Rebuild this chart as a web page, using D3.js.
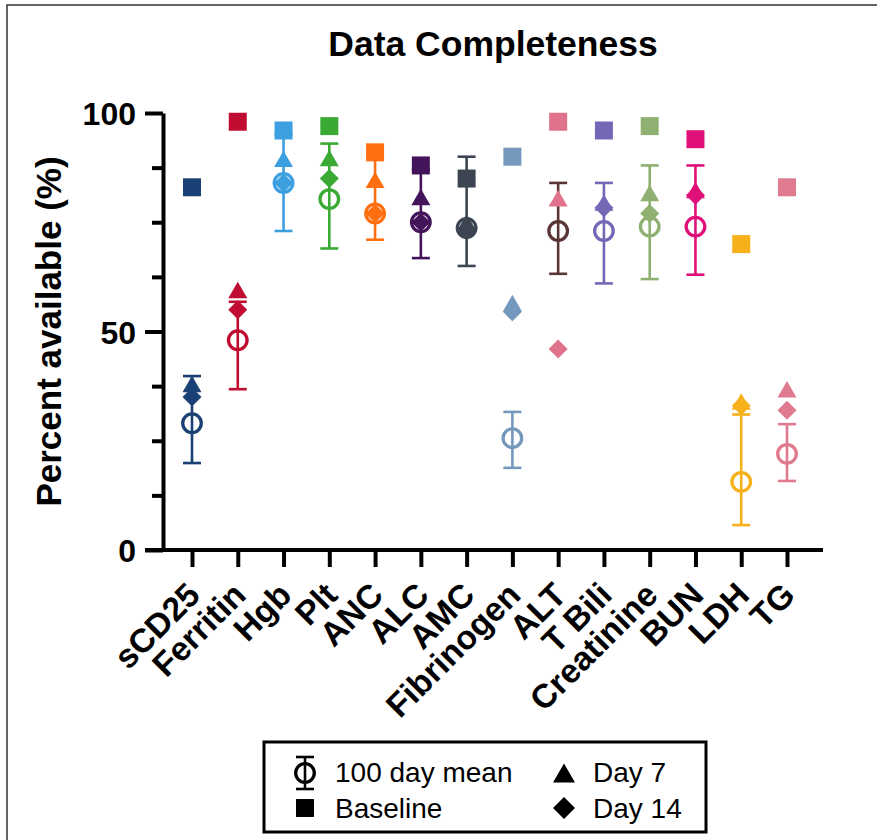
<!DOCTYPE html>
<html lang="en">
<head>
<meta charset="UTF-8">
<title>Data Completeness</title>
<script src="https://d3js.org/d3.v7.min.js"></script>
<style>
	body { margin: 0; background: #fff; }
	svg text { font-family: "Liberation Sans", Arial, sans-serif; fill: #000; }
	.bold { font-weight: bold; }
</style>
</head>
<body>
<svg id="chart" width="877" height="840"></svg>
<script>
// Values
const categories = ["sCD25", "Ferritin", "Hgb", "Plt", "ANC", "ALC", "AMC", "Fibrinogen", "ALT", "T Bili", "Creatinine", "BUN", "LDH", "TG"];
const baseline = [83, 98, 96, 97, 91, 88, 85, 90, 98, 96, 97, 94, 70, 83];
const day7 = [38, 59.5, 89.5, 89.7, 84.7, 80.8, 75, 56.5, 80.5, 79.5, 81.7, 82.4, 34, 36.8];
const day14 = [35, 55, 84, 85, 77, 75, 73, 54.5, 46, 78.3, 77, 81.2, 33, 32];
const mean100 = [29, 48, 84, 80.3, 77, 75, 73.7, 25.6, 73, 73, 74, 74, 15.6, 22];
const errLow = [19.9, 36.8, 73, 69, 71, 66.8, 65, 18.8, 63.2, 61, 62, 63, 5.7, 15.8];
const errHigh = [39.8, 56.8, 95, 93, 89.5, 87, 90, 31.6, 84, 84, 88, 88, 31, 28.8];
const colors = ["#1a4175", "#c00c30", "#3b9fe0", "#3aaa35", "#ff6f0f", "#43145a", "#3d4552", "#7598bd", "#e0738b", "#7567b5", "#8fb070", "#e0107a", "#f5b01a", "#e07a8e"];
const meanColors = ["#1a4175", "#c00c30", "#3b9fe0", "#3aaa35", "#ff6f0f", "#43145a", "#3d4552", "#7598bd", "#5a3535", "#7567b5", "#8fb070", "#e0107a", "#f5b01a", "#e07a8e"];
const majorTicks = [0, 50, 100];
const minorTicks = [12.5, 25, 37.5, 62.5, 75, 87.5];

const svg = d3.select("#chart");

const x = d3.scalePoint().domain(categories).range([192, 787]);
const y = d3.scaleLinear().domain([0, 100]).range([550, 113]);

// symbol paths
const squarePath = s => `M${-s/2},${-s/2}h${s}v${s}h${-s}Z`;
const trianglePath = s => { const h = s * Math.sqrt(3) / 2; return `M0,${-h/2}L${s/2},${h/2}L${-s/2},${h/2}Z`; };
const diamondPath = w => `M0,${-w/2}L${w/2},0L0,${w/2}L${-w/2},0Z`;

// outer frame
svg.append("rect").attr("x", 7).attr("y", 5).attr("width", 900).attr("height", 900)
	.attr("fill", "none").attr("stroke", "#333").attr("stroke-width", 1.5);

// title
svg.append("text").attr("class", "bold").attr("x", 493).attr("y", 56)
	.attr("text-anchor", "middle").attr("font-size", 35.5).text("Data Completeness");

// y axis
const yMajor = svg.append("g").attr("transform", "translate(163,0)")
	.call(d3.axisLeft(y).tickValues(majorTicks).tickSize(18).tickSizeOuter(0).tickPadding(9));
yMajor.select(".domain").attr("stroke-width", 4).attr("stroke", "#000");
yMajor.selectAll(".tick line").attr("stroke-width", 4).attr("stroke", "#000");
yMajor.selectAll(".tick text").attr("class", "bold").attr("font-size", 32).attr("dy", "0.36em")
	.attr("font-family", null);

const yMinor = svg.append("g").attr("transform", "translate(163,0)")
	.call(d3.axisLeft(y).tickValues(minorTicks).tickSize(11).tickFormat(""));
yMinor.select(".domain").remove();
yMinor.selectAll(".tick line").attr("stroke-width", 4).attr("stroke", "#000");

svg.append("text").attr("class", "bold").attr("font-size", 35)
	.attr("transform", `translate(61,${(y(0) + y(100)) / 2}) rotate(-90)`)
	.attr("text-anchor", "middle").text("Percent available (%)");

// x axis
const xAxis = svg.append("g").attr("transform", `translate(0,${y(0)})`)
	.call(d3.axisBottom(x).tickSize(17).tickFormat(""));
xAxis.select(".domain").remove();
xAxis.selectAll(".tick line").attr("stroke-width", 4).attr("stroke", "#000");
svg.append("line").attr("x1", 145).attr("x2", 823).attr("y1", y(0)).attr("y2", y(0))
	.attr("stroke", "#000").attr("stroke-width", 4);

svg.append("g").selectAll("text").data(categories).enter().append("text")
	.attr("class", "bold").attr("font-size", 33.5).attr("text-anchor", "end")
	.attr("transform", d => `translate(${x(d) + 10},597) rotate(-45)`)
	.text(d => d);

// error bars
const idx = d3.range(categories.length);
const err = svg.append("g").attr("fill", "none").attr("stroke-width", 2.6);
idx.forEach(i => {
	const cx = x(categories[i]);
	const g = err.append("g").attr("stroke", meanColors[i]);
	g.append("line").attr("x1", cx).attr("x2", cx).attr("y1", y(errLow[i])).attr("y2", y(errHigh[i]));
	g.append("line").attr("x1", cx - 9).attr("x2", cx + 9).attr("y1", y(errLow[i])).attr("y2", y(errLow[i]));
	g.append("line").attr("x1", cx - 9).attr("x2", cx + 9).attr("y1", y(errHigh[i])).attr("y2", y(errHigh[i]));
});

// 100 day mean circles
svg.append("g").selectAll("circle").data(idx).enter().append("circle")
	.attr("cx", i => x(categories[i])).attr("cy", i => y(mean100[i])).attr("r", 9.3)
	.attr("fill", "none").attr("stroke", i => meanColors[i]).attr("stroke-width", 3.3);

// baseline squares
svg.append("g").selectAll("path").data(idx).enter().append("path")
	.attr("d", squarePath(18))
	.attr("transform", i => `translate(${x(categories[i])},${y(baseline[i])})`)
	.attr("fill", i => colors[i]);

// day 7 triangles
svg.append("g").selectAll("path").data(idx).enter().append("path")
	.attr("d", trianglePath(19))
	.attr("transform", i => `translate(${x(categories[i])},${y(day7[i])})`)
	.attr("fill", i => colors[i]);

// day 14 diamonds
svg.append("g").selectAll("path").data(idx).enter().append("path")
	.attr("d", diamondPath(19))
	.attr("transform", i => `translate(${x(categories[i])},${y(day14[i])})`)
	.attr("fill", i => colors[i]);

// legend
const legend = svg.append("g");
legend.append("rect").attr("x", 264).attr("y", 742).attr("width", 442).attr("height", 90)
	.attr("fill", "#fff").attr("stroke", "#000").attr("stroke-width", 3);
const lg = legend.append("g").attr("stroke", "#000").attr("stroke-width", 2.6).attr("fill", "none");
lg.append("line").attr("x1", 305).attr("x2", 305).attr("y1", 757).attr("y2", 789);
lg.append("line").attr("x1", 296).attr("x2", 314).attr("y1", 757).attr("y2", 757);
lg.append("line").attr("x1", 296).attr("x2", 314).attr("y1", 789).attr("y2", 789);
lg.append("circle").attr("cx", 305).attr("cy", 773).attr("r", 9.3).attr("stroke-width", 3.3);
legend.append("path").attr("d", squarePath(18)).attr("transform", "translate(305,808)").attr("fill", "#000");
legend.append("path").attr("d", trianglePath(22)).attr("transform", "translate(564,773)").attr("fill", "#000");
legend.append("path").attr("d", diamondPath(22)).attr("transform", "translate(564,808)").attr("fill", "#000");
const legendItems = [
	{label: "100 day mean", lx: 335, ly: 782},
	{label: "Baseline", lx: 335, ly: 818},
	{label: "Day 7", lx: 593, ly: 782},
	{label: "Day 14", lx: 593, ly: 818}
];
legend.selectAll("text.item").data(legendItems).enter().append("text")
	.attr("class", "item").attr("x", d => d.lx).attr("y", d => d.ly)
	.attr("font-size", 28).text(d => d.label);
</script>
</body>
</html>
